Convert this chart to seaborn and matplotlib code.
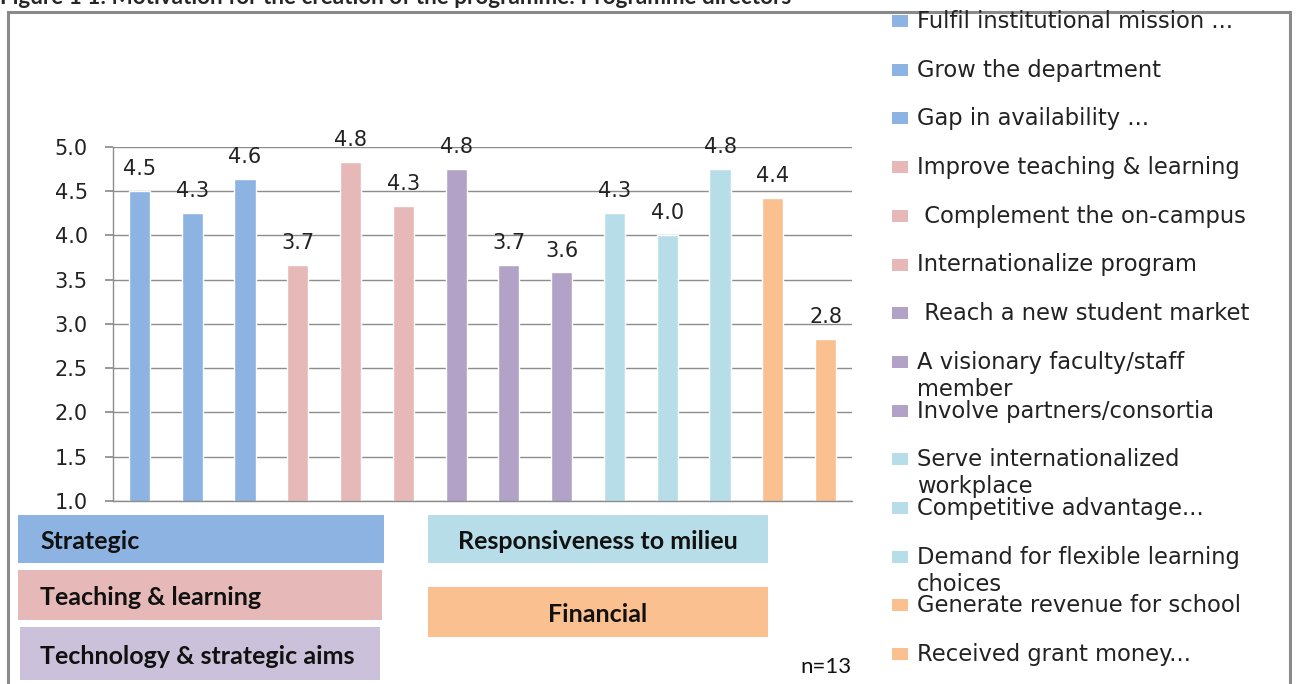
import matplotlib
matplotlib.use("Agg")
import matplotlib.pyplot as plt
from matplotlib.patches import Rectangle
import pandas as pd
import seaborn as sns

# data
motives = [
    "Fulfil institutional mission ...",
    "Grow the department",
    "Gap in availability ...",
    "Improve teaching & learning",
    " Complement the on-campus",
    "Internationalize program",
    " Reach a new student market",
    "A visionary faculty/staff\nmember",
    "Involve partners/consortia",
    "Serve internationalized\nworkplace",
    "Competitive advantage...",
    "Demand for flexible learning\nchoices",
    "Generate revenue for school",
    "Received grant money...",
]
groups = (["Strategic"] * 3 + ["Teaching & learning"] * 3
          + ["Technology & strategic aims"] * 3
          + ["Responsiveness to milieu"] * 3 + ["Financial"] * 2)
scores = [4.50, 4.25, 4.64, 3.67, 4.83, 4.33, 4.75, 3.67, 3.58,
          4.25, 4.00, 4.75, 4.42, 2.83]

bar_colors = {
    "Strategic": "#8DB3E2",
    "Teaching & learning": "#E6B9B8",
    "Technology & strategic aims": "#B3A2C7",
    "Responsiveness to milieu": "#B7DEE8",
    "Financial": "#FAC090",
}
box_colors = {
    "Strategic": "#8DB3E2",
    "Teaching & learning": "#E6B9B8",
    "Technology & strategic aims": "#CCC1DA",
    "Responsiveness to milieu": "#B7DEE8",
    "Financial": "#FAC090",
}

df = pd.DataFrame({"motive": motives, "group": groups, "score": scores})

sns.set_theme(style="white")
plt.rcParams["font.family"] = ["DejaVu Sans"]

W, H = 1296, 684
fig = plt.figure(figsize=(W / 100, H / 100), dpi=100)


def fx(px):
    return px / W


def fy(py):
    return 1 - py / H


# outer frame
fig.patches.append(Rectangle((fx(8), fy(700)), fx(1290) - fx(8), fy(12) - fy(700),
                             transform=fig.transFigure, fill=False,
                             edgecolor="#8a8a8a", linewidth=2.2))

# title (cut off at top like the original)
fig.text(fx(0), fy(4), "Figure 1 1: Motivation for the creation of the programme: Programme directors",
         fontsize=16.2, fontweight="bold", family="Lato", va="baseline", ha="left")

ax = fig.add_axes([fx(113), fy(501), fx(852) - fx(113), fy(146.7) - fy(501)])
sns.barplot(data=df, x="motive", y="score", hue="group", palette=bar_colors,
            dodge=False, width=0.4, legend=False, ax=ax, saturation=1)

ax.set_ylim(1, 5)
ax.set_xlim(-0.5, len(motives) - 0.5)
ax.set_yticks([1.0, 1.5, 2.0, 2.5, 3.0, 3.5, 4.0, 4.5, 5.0])
ax.set_yticklabels([f"{t:.1f}" for t in ax.get_yticks()], fontsize=15, color="#222222")
ax.yaxis.grid(True, color="#8c8c8c", linewidth=1)
ax.set_axisbelow(True)
ax.tick_params(axis="y", length=6, color="#8c8c8c", pad=12, left=True)
ax.tick_params(axis="x", length=0, labelbottom=False)
ax.set_xlabel("")
ax.set_ylabel("")
for side in ["top", "right"]:
    ax.spines[side].set_visible(False)
for side in ["left", "bottom"]:
    ax.spines[side].set_color("#8c8c8c")
    ax.spines[side].set_linewidth(1)

for p in ax.patches:
    h = p.get_height()
    ax.annotate(f"{h + 1e-9:.1f}", (p.get_x() + p.get_width() / 2, h),
                xytext=(0, 11.5), textcoords="offset points",
                ha="center", va="baseline", fontsize=15, color="#222222")

# legend on the right
for i, (name, grp) in enumerate(zip(motives, groups)):
    base = 27 + i * 48.7
    fig.patches.append(Rectangle((fx(892), fy(base)), fx(908) - fx(892), fy(base - 12) - fy(base),
                                 transform=fig.transFigure, color=bar_colors[grp], linewidth=0))
    for j, line in enumerate(name.split("\n")):
        fig.text(fx(917), fy(base + 1 + j * 27), line, fontsize=16.3, va="baseline", ha="left",
                 color="#222222")

# category boxes at the bottom
boxes = [
    ("Strategic", 18, 515, 384, 563, "left"),
    ("Teaching & learning", 18, 570, 382, 620, "left"),
    ("Technology & strategic aims", 20, 627, 380, 680, "left"),
    ("Responsiveness to milieu", 428, 515, 768, 563, "center"),
    ("Financial", 428, 587, 768, 637, "center"),
]
for label, x0, y0, x1, y1, align in boxes:
    fig.patches.append(Rectangle((fx(x0), fy(y1)), fx(x1) - fx(x0), fy(y0) - fy(y1),
                                 transform=fig.transFigure, color=box_colors[label], linewidth=0))
    tx = fx(40) if align == "left" else fx((x0 + x1) / 2)
    fig.text(tx, fy((y0 + y1) / 2 + 10), label, fontsize=18, fontweight="bold", family="Lato",
             ha=align, va="baseline", color="#111111")

fig.text(fx(800), fy(673), "n=13", fontsize=16, family="Lato", ha="left", va="baseline", color="#111111")

fig.savefig("out.png", dpi=100)
